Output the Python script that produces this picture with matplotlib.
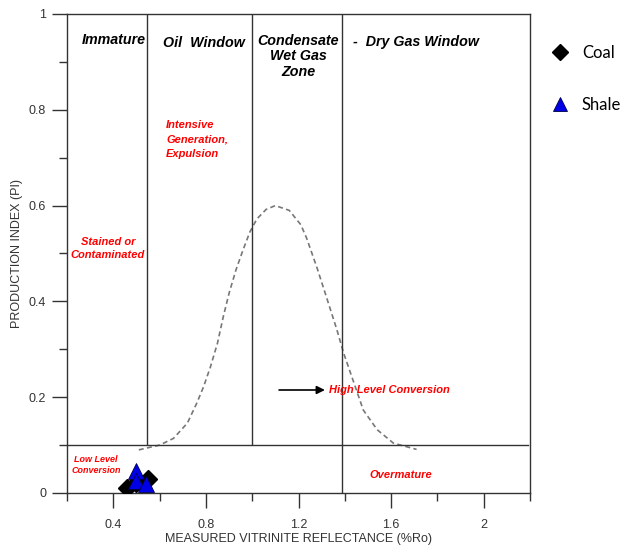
import numpy as np
import matplotlib
matplotlib.use('Agg')
import matplotlib.pyplot as plt
from matplotlib.ticker import MultipleLocator

# measured samples
coal_ro = [0.46, 0.50, 0.55]
coal_pi = [0.010, 0.020, 0.030]
shale_ro = [0.50, 0.50, 0.54]
shale_pi = [0.045, 0.024, 0.019]

# generation envelope (dashed bell)
env_ro = [0.51, 0.60, 0.66, 0.72, 0.76, 0.79, 0.82, 0.85, 0.875, 0.90, 0.93, 0.96,
          0.99, 1.02, 1.06, 1.10, 1.16, 1.21, 1.235, 1.28, 1.32, 1.365, 1.395,
          1.44, 1.48, 1.54, 1.61, 1.71]
env_pi = [0.090, 0.100, 0.114, 0.146, 0.187, 0.222, 0.264, 0.313, 0.368, 0.417,
          0.466, 0.507, 0.545, 0.572, 0.592, 0.600, 0.590, 0.560, 0.532, 0.470,
          0.410, 0.342, 0.292, 0.229, 0.173, 0.132, 0.104, 0.091]

# zone boundaries
ro_bounds = [0.544, 1.0, 1.39]
pi_bound = 0.1

red = '#ff0000'
line_c = '#333333'

plt.rcParams['font.family'] = ['Liberation Sans', 'DejaVu Sans']

fig = plt.figure(figsize=(6.27, 5.51), dpi=100)
ax = fig.add_axes([0.1069, 0.1053, 0.7384, 0.8693])

ax.plot(env_ro, env_pi, color='#777777', lw=1.2, linestyle=(0, (3, 2)), zorder=2)

# zone lines
ax.axhline(pi_bound, xmin=0, xmax=0.995, color=line_c, lw=1)
ax.vlines(ro_bounds[:2], pi_bound, 1, color=line_c, lw=1)
ax.vlines(ro_bounds[2], 0, 1, color=line_c, lw=1)

ax.plot(coal_ro, coal_pi, 'D', color='black', ms=9, mec='black', ls='none',
        label='Coal', zorder=4)
ax.plot(shale_ro, shale_pi, '^', color='#0000e6', ms=12, mec='#000040', mew=0.6,
        ls='none', label='Shale', zorder=5)

bi = dict(fontweight='bold', fontstyle='italic')
ax.text(0.401, 0.946, 'Immature', ha='center', va='center', fontsize=10.3, **bi)
ax.text(0.790, 0.939, 'Oil  Window', ha='center', va='center', fontsize=10.3, **bi)
ax.text(1.2, 0.958, 'Condensate\nWet Gas\nZone', ha='center', va='top', fontsize=10.3,
        linespacing=1.12, **bi)
ax.text(1.435, 0.942, '-  Dry Gas Window', ha='left', va='center', fontsize=10.3, **bi)

ax.text(0.628, 0.779, 'Intensive\nGeneration,\nExpulsion', ha='left', va='top',
        fontsize=8, color=red, linespacing=1.55, **bi)
ax.text(0.377, 0.51, 'Stained or\nContaminated', ha='center', va='center',
        fontsize=8, color=red, linespacing=1.35, **bi)
ax.text(0.325, 0.058, 'Low Level\nConversion', ha='center', va='center',
        fontsize=6.5, color=red, linespacing=1.2, **bi)
ax.text(1.332, 0.215, 'High Level Conversion', ha='left', va='center',
        fontsize=8, color=red, **bi)
ax.text(1.643, 0.038, 'Overmature', ha='center', va='center', fontsize=8,
        color=red, **bi)
ax.annotate('', xy=(1.314, 0.215), xytext=(1.116, 0.215),
            arrowprops=dict(arrowstyle='-|>', color='black', lw=1.2,
                            mutation_scale=12, shrinkA=0, shrinkB=0))

ax.set_xlim(0.2, 2.2)
ax.set_ylim(0, 1)
ax.xaxis.set_minor_locator(MultipleLocator(0.2))
ax.yaxis.set_minor_locator(MultipleLocator(0.1))
ax.set_xticks([0.4, 0.8, 1.2, 1.6, 2.0])
ax.set_xticklabels(['0.4', '0.8', '1.2', '1.6', '2'])
ax.set_yticks([0, 0.2, 0.4, 0.6, 0.8, 1.0])
ax.set_yticklabels(['0', '0.2', '0.4', '0.6', '0.8', '1'])
ax.tick_params(which='major', direction='out', length=11, width=1, color=line_c,
               labelsize=9, labelcolor='#333333', pad=4)
ax.tick_params(which='minor', direction='out', length=6, width=1, color=line_c)
ax.tick_params(axis='x', which='major', pad=8)
for s in ax.spines.values():
    s.set_color(line_c)
    s.set_linewidth(1)

ax.set_xlabel('MEASURED VITRINITE REFLECTANCE (%Ro)', fontsize=9, color='#333333',
              labelpad=1)
ax.set_ylabel('PRODUCTION INDEX (PI)', fontsize=9, color='#333333', labelpad=4)

ax.legend(loc='upper left', bbox_to_anchor=(1.015, 0.95), frameon=False,
          labelspacing=2.2, handletextpad=0.3, borderaxespad=0, markerscale=0.85,
          prop={'family': 'Lato', 'size': 12})

fig.savefig('out.png', dpi=100)
